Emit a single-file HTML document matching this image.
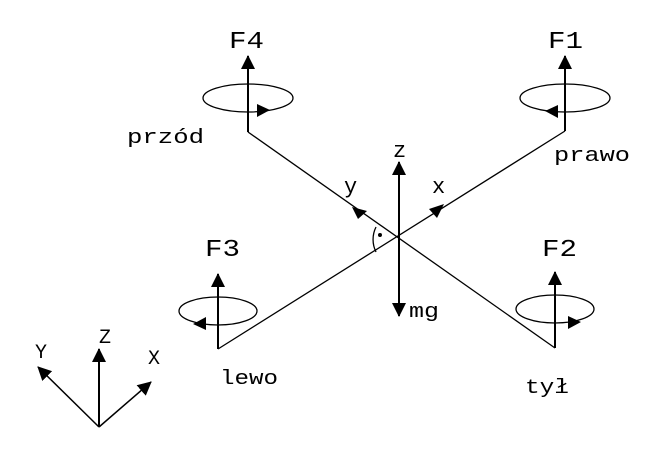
<!DOCTYPE html>
<html><head><style>body{margin:0;background:#fff}svg{display:block}text{font-family:"Liberation Mono",monospace;fill:#000}</style></head>
<body>
<svg width="645" height="457" viewBox="0 0 645 457">
<defs><marker id="b" markerWidth="14" markerHeight="14" refX="13" refY="7" orient="auto" markerUnits="userSpaceOnUse"><path d="M0,0 L14,7 L0,14 Z" fill="#000"/></marker></defs>
<g stroke="#000" stroke-width="1.3" fill="none">
<line x1="248" y1="132" x2="555" y2="348"/>
<line x1="565" y1="131" x2="218" y2="349"/>
<line x1="248" y1="132" x2="248" y2="56" stroke-width="2" marker-end="url(#b)"/>
<line x1="565" y1="131" x2="565" y2="56" stroke-width="2" marker-end="url(#b)"/>
<line x1="218" y1="349" x2="218" y2="274" stroke-width="2" marker-end="url(#b)"/>
<line x1="555" y1="348" x2="555" y2="272" stroke-width="2" marker-end="url(#b)"/>
<ellipse cx="248" cy="98" rx="45" ry="14"/>
<ellipse cx="565" cy="98" rx="45" ry="14"/>
<ellipse cx="218" cy="311" rx="39" ry="14"/>
<ellipse cx="555" cy="309" rx="39" ry="14"/>
<line x1="399" y1="240" x2="399" y2="162" stroke-width="2" marker-end="url(#b)"/>
<line x1="399" y1="236" x2="399" y2="316" stroke-width="2" marker-end="url(#b)"/>
<path d="M376,227 A28,28 0 0 0 376,252"/>
<line x1="99" y1="427" x2="99" y2="349" stroke-width="2" marker-end="url(#b)"/>
<line x1="99" y1="427" x2="38" y2="367" stroke-width="1.5" marker-end="url(#b)"/>
<line x1="99" y1="427" x2="151" y2="382" stroke-width="1.5" marker-end="url(#b)"/>
</g>
<g fill="#000">
<path d="M257,104 L270,110 L257,117 Z"/>
<path d="M558,105 L545,111 L558,118 Z"/>
<path d="M206,317 L193,324 L206,330 Z"/>
<path d="M568,316 L581,322 L568,329 Z"/>
<path d="M352,207 L367,211 L358,219 Z"/>
<path d="M444,204 L429,209 L437,218 Z"/>
<circle cx="380" cy="235" r="2"/>
</g>
<g font-size="24">
<text x="229" y="48" textLength="35" lengthAdjust="spacingAndGlyphs">F4</text><text x="548" y="48" textLength="35" lengthAdjust="spacingAndGlyphs">F1</text>
<text x="205" y="256" textLength="35" lengthAdjust="spacingAndGlyphs">F3</text><text x="542" y="256" textLength="35" lengthAdjust="spacingAndGlyphs">F2</text>
</g>
<g font-size="20">
<text x="127" y="143" textLength="77" lengthAdjust="spacingAndGlyphs">przód</text><text x="554" y="161" textLength="76" lengthAdjust="spacingAndGlyphs">prawo</text>
<text x="220" y="384" textLength="58" lengthAdjust="spacingAndGlyphs">lewo</text><text x="525" y="393" textLength="44" lengthAdjust="spacingAndGlyphs">tył</text>
<text x="409" y="317" textLength="30" lengthAdjust="spacingAndGlyphs">mg</text>
</g>
<g font-size="22">
<text x="393" y="157">z</text><text x="344" y="193">y</text><text x="432" y="193">x</text>
</g>
<g font-size="20">
<text x="35" y="358">Y</text><text x="99" y="343">Z</text><text x="148" y="364">X</text>
</g>
</svg>
</body></html>
